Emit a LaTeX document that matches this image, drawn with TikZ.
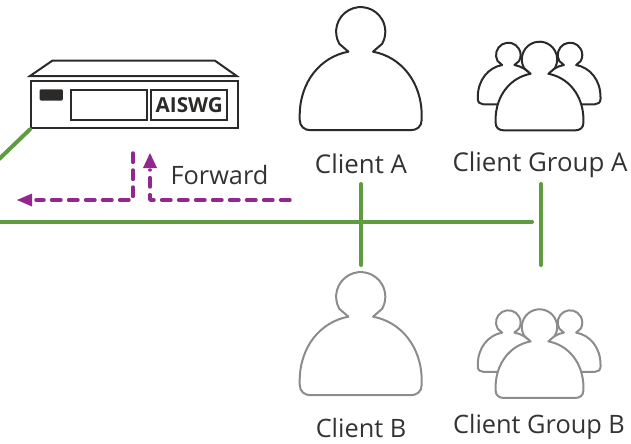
\documentclass[tikz,border=0pt]{standalone}
\usepackage{fontspec}
\setmainfont{Open Sans}
\usetikzlibrary{arrows.meta}
\definecolor{netgreen}{HTML}{5E9C3F}
\definecolor{flowpurple}{HTML}{93278F}
\definecolor{inkdark}{HTML}{2B2A29}
\definecolor{inkgrey}{HTML}{8C8C8C}
\definecolor{labelgrey}{HTML}{333333}
\tikzset{
  x=0.75pt,y=-0.75pt,
  net/.style={draw=netgreen,line width=3pt,line cap=round},
  flow/.style={draw=flowpurple,line width=2.6pt,line cap=round,line join=round,dash pattern=on 7pt off 5.75pt},
  flowtip/.style={fill=flowpurple,draw=none},
  box/.style={draw=inkdark,line width=1.5pt,fill=white},
  lbl/.style={font=\fontsize{19.4}{22}\selectfont,text=labelgrey,inner sep=0pt,anchor=center},
  lblsmall/.style={lbl,font=\fontsize{19}{22}\selectfont},
  pers/.pic={
    \path[pic actions]
      (-12.3,20) -- (-21.4,12.1)
      arc[start angle=150.5,end angle=389.5,radius=24.6]
      -- (12.3,20)
      .. controls (40,25) and (61,50) .. (61,84)
      -- (61,88) .. controls (61,95) and (56,98.5) .. (50,98.5)
      -- (-50,98.5) .. controls (-56,98.5) and (-61,95) .. (-61,88)
      -- (-61,84) .. controls (-61,50) and (-40,25) .. (-12.3,20) -- cycle;
  },
  person/.style={draw=#1,line width=1.5pt,fill=white,line join=round},
}
\begin{document}
\begin{tikzpicture}
\useasboundingbox (0,0) rectangle (631,443);
% device
\draw[box,line join=miter] (30,76) -- (52.3,60.7) -- (215,60.7) -- (236.7,76) -- cycle;
\node[box,minimum width=155.5pt,minimum height=35.5pt,inner sep=0pt,anchor=north west] (dev) at (30,80) {};
\node[fill=inkdark,rounded corners=1pt,minimum width=17.5pt,minimum height=8.5pt,inner sep=0pt,anchor=north west] (led) at (39.3,89) {};
\node[box,minimum width=57pt,minimum height=22.3pt,inner sep=0pt,anchor=north west] (slot) at (69.7,89.3) {};
\node[box,minimum width=57pt,minimum height=22.3pt,inner sep=0pt,anchor=north west,font=\bfseries\fontsize{15.5}{18}\selectfont,text=inkdark] (logo) at (150.3,89.3) {AISWG};
% network
\coordinate (nl) at (-5,221.7);
\coordinate (nr) at (532,221.7);
\coordinate (dl) at (-5,163);
\draw[net] (dl) -- (dev.south west);
\draw[net] (nl) -- (nr);
\coordinate (a1) at (361,184);
\coordinate (a2) at (361,265);
\coordinate (b1) at (541,184);
\coordinate (b2) at (541,265);
\draw[net] (a1) -- (a2);
\draw[net] (b1) -- (b2);
% flows
\coordinate (f1) at (133,153);
\coordinate (f2) at (133,200);
\coordinate (f3) at (36,200);
\coordinate (t1) at (17,200);
\coordinate (g1) at (290,200);
\coordinate (g2) at (150,200);
\coordinate (g3) at (150,170);
\draw[flow] (f1) -- (f2) -- (f3);
\fill[flowtip] (t1) -- (32,193.5) -- (32,206.5) -- cycle;
\draw[flow] (g1) -- (g2) -- (g3);
\fill[flowtip] (150,153) -- (157,168) -- (143,168) -- cycle;
\node[lblsmall] (fw) at (219.5,175) {Forward};
% people
\pic[person=inkdark] at (360.7,31.7) {pers};
\pic[person=inkdark,scale=.5] at (508.3,55) {pers};
\pic[person=inkdark,scale=.5] at (570,55) {pers};
\pic[person=inkdark,scale=.72] at (539.5,59.4) {pers};
\pic[person=inkgrey] at (360.7,296.7) {pers};
\pic[person=inkgrey,scale=.5] at (508.3,322.6) {pers};
\pic[person=inkgrey,scale=.5] at (570,322.6) {pers};
\pic[person=inkgrey,scale=.72] at (539.5,327) {pers};
% labels
\node[lbl] (ca) at (361,164) {Client A};
\node[lbl] (ga) at (540,165) {Client Group A};
\node[lblsmall] (cb) at (361,428) {Client B};
\node[lblsmall] (gb) at (539,427) {Client Group B};
\end{tikzpicture}
\end{document}
